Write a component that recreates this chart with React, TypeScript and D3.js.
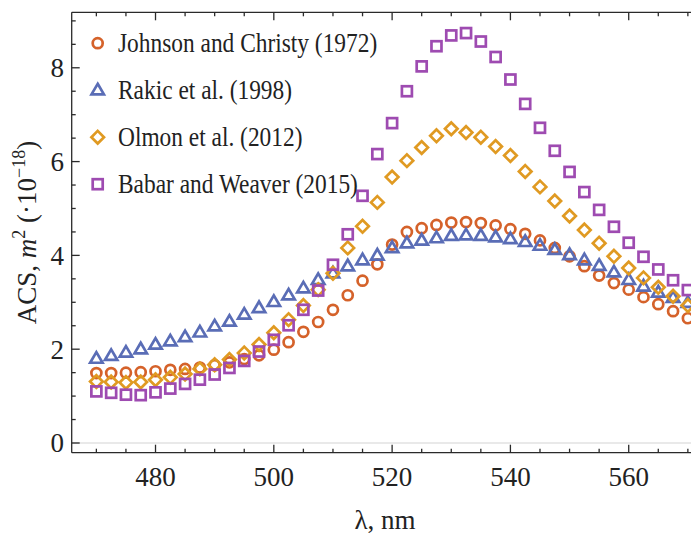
import * as d3 from "d3";

// wavelength grid, nm (2.5 nm step)
const wavelengths = d3.range(41).map((i) => 470 + i * 2.5);

const johnsonChristy = [1.49, 1.49, 1.5, 1.51, 1.53, 1.56, 1.58, 1.61, 1.66, 1.72, 1.79, 1.87, 1.99, 2.15, 2.37, 2.58, 2.84, 3.15, 3.46, 3.81, 4.23, 4.5, 4.58, 4.65, 4.7, 4.71, 4.69, 4.64, 4.56, 4.46, 4.32, 4.16, 3.98, 3.77, 3.57, 3.41, 3.27, 3.11, 2.96, 2.81, 2.66];
const rakic = [1.8, 1.86, 1.93, 2.0, 2.1, 2.17, 2.26, 2.36, 2.49, 2.59, 2.74, 2.88, 3.01, 3.15, 3.3, 3.48, 3.62, 3.77, 3.9, 4.0, 4.16, 4.26, 4.32, 4.37, 4.42, 4.43, 4.42, 4.39, 4.35, 4.29, 4.21, 4.12, 4.01, 3.9, 3.78, 3.64, 3.48, 3.34, 3.21, 3.1, 2.99];
const olmon = [1.31, 1.3, 1.29, 1.3, 1.35, 1.4, 1.47, 1.58, 1.67, 1.78, 1.92, 2.1, 2.35, 2.63, 2.93, 3.27, 3.62, 4.16, 4.62, 5.13, 5.67, 6.02, 6.3, 6.55, 6.7, 6.62, 6.52, 6.32, 6.13, 5.79, 5.46, 5.16, 4.84, 4.54, 4.26, 3.98, 3.73, 3.52, 3.32, 3.13, 2.93];
const babarWeaver = [1.1, 1.07, 1.03, 1.02, 1.08, 1.16, 1.26, 1.35, 1.46, 1.6, 1.75, 1.95, 2.2, 2.51, 2.84, 3.25, 3.8, 4.45, 5.27, 6.16, 6.82, 7.5, 8.03, 8.46, 8.69, 8.74, 8.56, 8.23, 7.75, 7.23, 6.72, 6.23, 5.78, 5.35, 4.97, 4.61, 4.27, 3.97, 3.7, 3.47, 3.26];

const seriesNames = ["Johnson and Christy (1972)", "Rakic et al. (1998)", "Olmon et al. (2012)", "Babar and Weaver (2015)"];
const seriesValues = [johnsonChristy, rakic, olmon, babarWeaver];
const seriesColors = ["#d5622a", "#5a6db6", "#e09a22", "#9e4bb1"];
const seriesMarkers = ["circle", "triangle", "diamond", "square"];

const xMajorTicks = [480, 500, 520, 540, 560];
const yMajorTicks = [0, 2, 4, 6, 8];

const width = 691;
const height = 536;
const left = 71.7;
const top = 12.3;
const bottom = 452.7;

const FONT = "'Liberation Serif', 'Times New Roman', serif";

function Marker({ kind, cx, cy, color }: { kind: string; cx: number; cy: number; color: string }) {
  const sw = 2.7;
  if (kind === "circle")
    return <circle cx={cx} cy={cy} r={5} fill="none" stroke={color} strokeWidth={sw} />;
  if (kind === "square")
    return <rect x={cx - 5} y={cy - 5} width={10} height={10} fill="none" stroke={color} strokeWidth={sw} />;
  if (kind === "diamond")
    return <path d={`M${cx},${cy - 6.3}L${cx + 6.3},${cy}L${cx},${cy + 6.3}L${cx - 6.3},${cy}Z`} fill="none" stroke={color} strokeWidth={sw} strokeLinejoin="miter" />;
  // triangle
  return <path d={`M${cx},${cy - 6.4}L${cx + 6.2},${cy + 4.2}L${cx - 6.2},${cy + 4.2}Z`} fill="none" stroke={color} strokeWidth={sw} strokeLinejoin="miter" />;
}

export default function App() {
  const x = d3.scaleLinear([465.83, 580], [left, left + (580 - 465.83) * 5.915]);
  const y = d3.scaleLinear([-0.207, 9.183], [bottom, top]);
  const right = x(580);

  const xMinor = d3.range(470, 580, 5).filter((v) => !xMajorTicks.includes(v));
  const yMinor = d3.range(0.5, 9.1, 0.5).filter((v) => !yMajorTicks.includes(v));

  return (
    <svg width={width} height={height} style={{ position: "absolute", left: 0, top: 0, background: "#fff" }} fontFamily={FONT}>
      {/* y = 0 axis line */}
      <line x1={left} x2={right} y1={y(0)} y2={y(0)} stroke="#d4d4d4" strokeWidth={1.2} />

      {/* frame */}
      <g stroke="#2a2a2a" strokeWidth={1.3} fill="none">
        <line x1={left} x2={right} y1={bottom} y2={bottom} />
        <line x1={left} x2={right} y1={top} y2={top} />
        <line x1={left} x2={left} y1={top} y2={bottom} />
        {xMajorTicks.map((v) => (
          <g key={"xm" + v}>
            <line x1={x(v)} x2={x(v)} y1={bottom} y2={bottom - 8} />
            <line x1={x(v)} x2={x(v)} y1={top} y2={top + 8} />
          </g>
        ))}
        {xMinor.map((v) => (
          <g key={"xn" + v}>
            <line x1={x(v)} x2={x(v)} y1={bottom} y2={bottom - 4} />
            <line x1={x(v)} x2={x(v)} y1={top} y2={top + 4} />
          </g>
        ))}
        {yMajorTicks.map((v) => (
          <line key={"ym" + v} x1={left} x2={left + 8} y1={y(v)} y2={y(v)} />
        ))}
        {yMinor.map((v) => (
          <line key={"yn" + v} x1={left} x2={left + 4} y1={y(v)} y2={y(v)} />
        ))}
      </g>

      {/* tick labels */}
      {xMajorTicks.map((v) => (
        <text key={"xl" + v} x={x(v)} y={486} fontSize={27} textAnchor="middle" fill="#222">
          {v}
        </text>
      ))}
      {yMajorTicks.map((v) => (
        <text key={"yl" + v} x={64} y={y(v) + 9.5} fontSize={27} textAnchor="end" fill="#222">
          {v}
        </text>
      ))}

      {/* axis titles */}
      <text x={385} y={529} fontSize={27} textAnchor="middle" fill="#222">
        λ, nm
      </text>
      <text transform={`translate(36,${(top + bottom) / 2}) rotate(-90)`} fontSize={27} textAnchor="middle" fill="#222">
        ACS, <tspan fontStyle="italic">m</tspan>
        <tspan fontSize={18} dy={-11}>2</tspan>
        <tspan dy={11}> (·10</tspan>
        <tspan fontSize={18} dy={-11}>−18</tspan>
        <tspan dy={11}>)</tspan>
      </text>

      {/* data */}
      {seriesValues.map((vals, s) => (
        <g key={"s" + s}>
          {vals.map((v, i) => (
            <Marker key={i} kind={seriesMarkers[s]} cx={x(wavelengths[i])} cy={y(v)} color={seriesColors[s]} />
          ))}
        </g>
      ))}

      {/* legend */}
      {seriesNames.map((name, s) => {
        const baseline = 51.7 + s * 47;
        return (
          <g key={"lg" + s}>
            <Marker kind={seriesMarkers[s]} cx={97.7} cy={baseline - 8.5} color={seriesColors[s]} />
            <text transform={`translate(118,${baseline}) scale(1,1.15)`} fontSize={23.4} fill="#222">
              {name}
            </text>
          </g>
        );
      })}
    </svg>
  );
}
